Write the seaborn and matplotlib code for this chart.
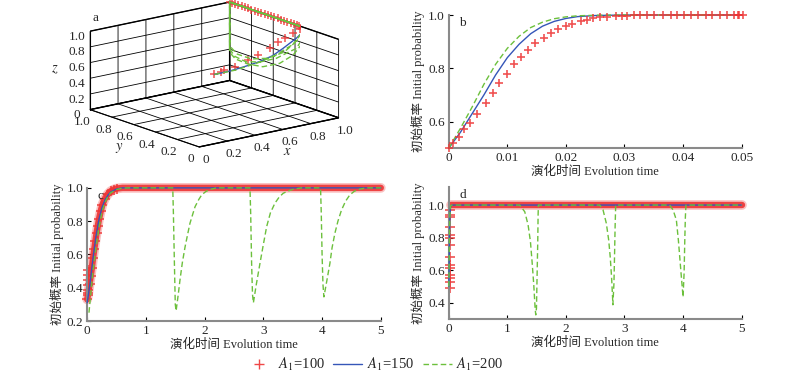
import numpy as np
import matplotlib
matplotlib.use('Agg')
import matplotlib.pyplot as plt
import seaborn as sns
from matplotlib.lines import Line2D
from matplotlib.ticker import FuncFormatter

sns.set_style('ticks')
plt.rcParams['font.family'] = ['Liberation Serif', 'Noto Sans CJK SC']
plt.rcParams['mathtext.fontset'] = 'stix'
plt.rcParams['font.size'] = 9

RED = '#ee3434'
BLUE = '#3556b8'
GREEN = '#6cc03c'
SPINE = '#8a8a8a'

series_labels = ['$A_1$=100', '$A_1$=150', '$A_1$=200']
xlab = '演化时间 Evolution time'
ylab = '初始概率 Initial probability'

# ---------------- panel a : 3D trajectories
a_red_x = [0.5, 0.55, 0.58, 0.63, 0.72, 0.78, 0.85, 0.9, 0.93, 0.96, 0.98, 0.99,
           1.0, 1.0, 1.0, 1.0, 1.0, 1.0, 1.0, 1.0, 1.0, 1.0, 1.0, 1.0, 1.0, 1.0,
           1.0, 1.0, 1.0, 1.0, 1.0, 1.0, 1.0, 1.0, 1.0, 1.0, 1.0]
a_red_y = [0.5, 0.505, 0.51, 0.48, 0.474, 0.459, 0.44, 0.428, 0.405, 0.366, 0.33, 0.31,
           0.32, 0.34, 0.36, 0.38, 0.41, 0.44, 0.47, 0.5, 0.53, 0.56, 0.59, 0.62, 0.65,
           0.68, 0.71, 0.74, 0.77, 0.8, 0.83, 0.86, 0.89, 0.92, 0.95, 0.98, 1.0]
a_red_z = [0.5, 0.51, 0.518, 0.558, 0.614, 0.663, 0.733, 0.806, 0.848, 0.92, 0.98, 1.0,
           1.0, 1.0, 1.0, 1.0, 1.0, 1.0, 1.0, 1.0, 1.0, 1.0, 1.0, 1.0, 1.0, 1.0,
           1.0, 1.0, 1.0, 1.0, 1.0, 1.0, 1.0, 1.0, 1.0, 1.0, 1.0]

a_blue_x = [0.5, 0.6, 0.65, 0.72, 0.8, 0.87, 0.92, 0.97, 1.0, 1.0, 1.0]
a_blue_y = [0.5, 0.497, 0.495, 0.485, 0.47, 0.44, 0.408, 0.348, 0.294, 0.6, 1.0]
a_blue_z = [0.5, 0.505, 0.513, 0.535, 0.567, 0.63, 0.72, 0.862, 1.0, 1.0, 1.0]

a_green_x = [0.5, 0.65, 0.8, 0.9, 0.96, 1.0, 1.0, 1.0,
             1.0, 1.0, 1.0, 1.0, 1.0, 1.0, 1.0, 1.0, 1.0, 1.0,
             1.0, 1.0, 1.0, 1.0, 1.0, 1.0, 1.0, 1.0, 1.0, 1.0,
             1.0, 1.0, 1.0, 1.0, 1.0, 1.0, 1.0, 1.0, 1.0]
a_green_y = [0.5, 0.5, 0.49, 0.45, 0.38, 0.3, 0.28, 1.0,
             0.248, 0.294, 0.418, 0.541, 0.696, 0.836, 0.947, 1.0, 1.0, 0.279,
             0.387, 0.45, 0.573, 0.72, 0.851, 0.95, 1.0, 1.0, 0.32,
             0.33, 0.4, 0.5, 0.65, 0.8, 0.93, 1.0, 1.0, 1.0, 1.0]
a_green_z = [0.5, 0.5, 0.54, 0.62, 0.76, 0.95, 1.0, 1.0,
             1.0, 0.877, 0.6, 0.437, 0.32, 0.29, 0.3, 0.36, 1.0, 1.0,
             0.7, 0.63, 0.485, 0.37, 0.31, 0.33, 0.4, 1.0, 1.0,
             0.95, 0.77, 0.6, 0.45, 0.37, 0.37, 0.44, 1.0, 1.0, 1.0]

# ---------------- panel b
b_red_t = [0, 0.0007, 0.0018, 0.0026, 0.0036, 0.0049, 0.0063, 0.0075, 0.0086, 0.0099,
           0.0112, 0.0123, 0.0136, 0.0147, 0.0162, 0.0174, 0.0187, 0.0200, 0.0211, 0.0225,
           0.0236, 0.0247, 0.0259, 0.0271, 0.0285, 0.0296, 0.0305, 0.0316, 0.0327, 0.0339,
           0.035, 0.0365, 0.0379, 0.039, 0.0402, 0.0413, 0.0426, 0.0439, 0.045, 0.0463,
           0.0475, 0.0487, 0.0493, 0.0496, 0.0502]
b_red_v = [0.5, 0.52, 0.54, 0.57, 0.595, 0.63, 0.67, 0.707, 0.745, 0.78,
           0.815, 0.843, 0.87, 0.894, 0.915, 0.933, 0.947, 0.96, 0.968, 0.977,
           0.983, 0.988, 0.991, 0.994, 0.996, 0.997, 0.998, 0.999, 0.999, 1.0,
           1.0, 1.0, 1.0, 1.0, 1.0, 1.0, 1.0, 1.0, 1.0, 1.0,
           1.0, 1.0, 1.0, 1.0, 1.0]
b_t = [0, 0.002, 0.004, 0.006, 0.008, 0.010, 0.012, 0.014, 0.016, 0.018, 0.020,
       0.022, 0.025, 0.030, 0.035, 0.05]
b_blue_v = [0.5, 0.56, 0.63, 0.70, 0.775, 0.84, 0.89, 0.93, 0.958, 0.976, 0.987,
            0.994, 0.998, 1.0, 1.0, 1.0]
b_green_v = [0.5, 0.575, 0.655, 0.74, 0.815, 0.875, 0.92, 0.953, 0.973, 0.986, 0.993,
             0.997, 0.999, 1.0, 1.0, 1.0]

# ---------------- panel c
c_red_t = [0, 0.02, 0.04, 0.06, 0.08, 0.1, 0.12, 0.14, 0.16, 0.18, 0.2, 0.23, 0.26,
           0.3, 0.35, 0.4, 0.45, 0.5, 0.6, 0.7, 5.0]
c_red_v = [0.33, 0.37, 0.42, 0.47, 0.52, 0.58, 0.63, 0.68, 0.73, 0.77, 0.81, 0.86, 0.9,
           0.935, 0.962, 0.98, 0.99, 0.996, 1.0, 1.0, 1.0]
c_red0_t = [0.01, 0.01, 0.01, 0.01, 0.01, 0.01]
c_red0_v = [0.506, 0.476, 0.446, 0.416, 0.386, 0.355]
c_blue_t = [0, 0.05, 0.1, 0.15, 0.2, 0.25, 0.3, 0.35, 0.4, 0.5, 0.6, 5.0]
c_blue_v = [0.31, 0.43, 0.58, 0.71, 0.81, 0.88, 0.925, 0.955, 0.975, 0.993, 1.0, 1.0]
c_green_t = [0.03, 0.06, 0.1, 0.15, 0.2, 0.25, 0.3, 0.35, 0.4, 0.5, 0.6, 0.7,
             1.457, 1.468, 1.485, 1.50, 1.514, 1.553, 1.58, 1.62, 1.667, 1.71, 1.75,
             1.8, 1.837, 1.9, 1.95, 2.02, 2.09, 2.2,
             2.772, 2.784, 2.80, 2.815, 2.83, 2.88, 2.942, 3.0, 3.056, 3.12, 3.197,
             3.27, 3.339, 3.45, 3.53, 3.65,
             3.974, 3.986, 4.0, 4.015, 4.031, 4.08, 4.133, 4.17, 4.218, 4.27, 4.331,
             4.4, 4.473, 4.55, 4.64, 4.75, 5.0]
c_green_v = [0.25, 0.36, 0.50, 0.64, 0.76, 0.85, 0.91, 0.945, 0.97, 0.99, 0.998, 1.0,
             1.0, 0.847, 0.546, 0.30, 0.261, 0.366, 0.446, 0.55, 0.646, 0.72, 0.787,
             0.845, 0.887, 0.93, 0.958, 0.978, 0.99, 1.0,
             1.0, 0.847, 0.546, 0.36, 0.309, 0.42, 0.546, 0.66, 0.767, 0.85, 0.908,
             0.945, 0.968, 0.985, 0.993, 1.0,
             1.0, 0.85, 0.6, 0.42, 0.345, 0.44, 0.546, 0.64, 0.727, 0.80, 0.867,
             0.92, 0.958, 0.98, 0.992, 1.0, 1.0]

# ---------------- panel d
d_red0_t = [0.012] * 14
d_red0_v = [0.49, 0.53, 0.55, 0.571, 0.612, 0.633, 0.684, 0.755, 0.796, 0.816,
            0.867, 0.928, 0.939, 0.97]
d_red_t = [0.03, 5.0]
d_red_v = [1.0, 1.0]
d_blue_t = [0, 0.005, 0.01, 0.015, 0.02, 0.03, 0.05, 5.0]
d_blue_v = [0.5, 0.62, 0.75, 0.86, 0.94, 0.99, 1.0, 1.0]
d_green_t = [0, 0.005, 0.01, 0.015, 0.02, 0.03, 0.05,
             1.21, 1.297, 1.354, 1.394, 1.422, 1.451, 1.474, 1.485, 1.497, 1.508,
             1.519, 1.525, 1.53,
             2.577, 2.634, 2.69, 2.73, 2.756, 2.779, 2.796, 2.802, 2.82, 2.83, 2.84, 2.85,
             3.77, 3.83, 3.886, 3.92, 3.943, 3.966, 3.99, 4.0, 4.018, 4.03, 4.04, 4.05,
             5.0]
d_green_v = [0.5, 0.63, 0.76, 0.87, 0.95, 0.995, 1.0,
             1.0, 0.959, 0.878, 0.776, 0.653, 0.51, 0.367, 0.326, 0.367, 0.571,
             0.776, 0.939, 1.0,
             1.0, 0.97, 0.888, 0.786, 0.684, 0.561, 0.439, 0.388, 0.52, 0.684, 0.867, 1.0,
             1.0, 0.97, 0.908, 0.786, 0.684, 0.582, 0.48, 0.435, 0.582, 0.786, 0.929, 1.0,
             1.0]

fig = plt.figure(figsize=(8, 3.75), dpi=100)

tick_fmt = FuncFormatter(lambda v, p: '0' if abs(v) < 1e-9 else f'{v:.1f}')


def line(ax, t, v, color, dashed=False, lw=1.0, zorder=3, alpha=1.0):
    sns.lineplot(x=t, y=v, ax=ax, estimator=None, sort=False, color=color,
                 linewidth=lw, linestyle='--' if dashed else '-', zorder=zorder,
                 alpha=alpha, legend=False)
    ln = ax.lines[-1]
    ln.set_clip_on(False)
    if dashed:
        ln.set_dashes((4, 2.2))


def crosses(ax, t, v, s=40, zorder=4):
    sns.scatterplot(x=t, y=v, ax=ax, marker='+', s=s, color=RED, linewidth=1.2,
                    alpha=0.85, zorder=zorder, clip_on=False, legend=False)


def style2d(ax, letter):
    sns.despine(ax=ax)
    for sp in ('left', 'bottom'):
        ax.spines[sp].set_color(SPINE)
        ax.spines[sp].set_linewidth(1.5)
    ax.tick_params(direction='in', length=3, width=0.8, color='k', labelsize=9.5, pad=3)
    ax.set_xlabel(xlab, fontsize=9, labelpad=1)
    ax.set_ylabel(ylab, fontsize=9, labelpad=2)
    ax.text(0.035, 0.985, letter, transform=ax.transAxes, va='top', ha='left', fontsize=9.5)


# ---- a
ax = fig.add_axes([0.02, 0.56, 0.49, 0.47], projection='3d', proj_type='ortho')
ax.view_init(elev=15.5, azim=-128)
ax.set_box_aspect((1, 1, 0.46), zoom=1.45)
ax.plot(a_blue_x, a_blue_y, a_blue_z, color=BLUE, lw=1.0, zorder=3)
ax.plot(a_green_x, a_green_y, a_green_z, color=GREEN, lw=1.0, ls=(0, (4, 2.2)), zorder=4)
ax.scatter(a_red_x, a_red_y, a_red_z, marker='+', s=36, color=RED, linewidths=1.1,
           alpha=0.85, depthshade=False, zorder=5)
ax.set_xlim(0, 1)
ax.set_ylim(0, 1)
ax.set_zlim(0, 1)
ticks = [0, 0.2, 0.4, 0.6, 0.8, 1.0]
for axis in (ax.xaxis, ax.yaxis, ax.zaxis):
    axis.set_ticks(ticks)
    axis.set_major_formatter(tick_fmt)
    axis.set_pane_color((1, 1, 1, 1))
    axis.pane.set_edgecolor('k')
    axis.line.set_color('k')
    axis.line.set_linewidth(0.8)
    axis._axinfo['grid'].update(color='k', linewidth=0.6, linestyle='-')
    axis._axinfo['tick'].update(inward_factor=0.0, outward_factor=0.0)
ax.tick_params(axis='x', labelsize=9.5, pad=-4)
ax.tick_params(axis='y', labelsize=9.5, pad=-4)
ax.tick_params(axis='z', labelsize=9.5, pad=-4.5)
ax.set_xlabel('$x$', fontsize=10.5, labelpad=-10)
ax.set_ylabel('$y$', fontsize=10.5, labelpad=-9)
ax.set_zlabel('$z$', fontsize=10.5, labelpad=-11.5)
fig.text(0.116, 0.953, 'a', fontsize=9.5, va='center')

# ---- b
axb = fig.add_axes([0.561, 0.605, 0.366, 0.355])
line(axb, b_t, b_blue_v, BLUE, zorder=3)
line(axb, b_t, b_green_v, GREEN, dashed=True, zorder=3)
crosses(axb, b_red_t, b_red_v)
axb.set_xlim(0, 0.05)
axb.set_ylim(0.5, 1.0)
axb.set_xticks([0, 0.01, 0.02, 0.03, 0.04, 0.05])
axb.xaxis.set_major_formatter(FuncFormatter(lambda v, p: '0' if abs(v) < 1e-9 else f'{v:.2f}'))
axb.set_yticks([0.6, 0.8, 1.0])
axb.yaxis.set_major_formatter(tick_fmt)
style2d(axb, 'b')

# ---- c
axc = fig.add_axes([0.109, 0.144, 0.367, 0.355])
line(axc, c_red_t, c_red_v, RED, lw=7.0, alpha=0.3, zorder=2)
line(axc, c_red_t, c_red_v, RED, lw=4.6, alpha=0.9, zorder=2)
crosses(axc, c_red_t[:18], c_red_v[:18], s=44, zorder=2)
crosses(axc, c_red0_t, c_red0_v, s=44, zorder=2)
line(axc, c_blue_t, c_blue_v, BLUE, zorder=3)
line(axc, c_green_t, c_green_v, GREEN, dashed=True, zorder=4)
axc.set_xlim(0, 5)
axc.set_ylim(0.2, 1.0)
axc.set_yticks([0.2, 0.4, 0.6, 0.8, 1.0])
axc.yaxis.set_major_formatter(tick_fmt)
style2d(axc, 'c')

# ---- d
axd = fig.add_axes([0.561, 0.149, 0.366, 0.352])
line(axd, d_red_t, d_red_v, RED, lw=7.0, alpha=0.3, zorder=2)
line(axd, d_red_t, d_red_v, RED, lw=4.6, alpha=0.9, zorder=2)
crosses(axd, d_red0_t, d_red0_v, s=44, zorder=2)
line(axd, d_blue_t, d_blue_v, BLUE, zorder=3)
line(axd, d_green_t, d_green_v, GREEN, dashed=True, zorder=4)
axd.set_xlim(0, 5)
axd.set_ylim(0.3, 1.11)
axd.set_yticks([0.4, 0.6, 0.8, 1.0])
axd.yaxis.set_major_formatter(tick_fmt)
style2d(axd, 'd')

handles = [Line2D([], [], color=RED, marker='+', linestyle='none', markersize=7, alpha=0.9),
           Line2D([], [], color=BLUE, lw=1.0),
           Line2D([], [], color=GREEN, lw=1.0, ls=(0, (4, 2.2)))]
fig.legend(handles, series_labels, loc='center', bbox_to_anchor=(0.467, 0.027), ncol=3,
           frameon=False, fontsize=10.5, handlelength=2.0, handletextpad=0.3,
           columnspacing=0.6, borderpad=0)

fig.savefig('out.png', dpi=100)
